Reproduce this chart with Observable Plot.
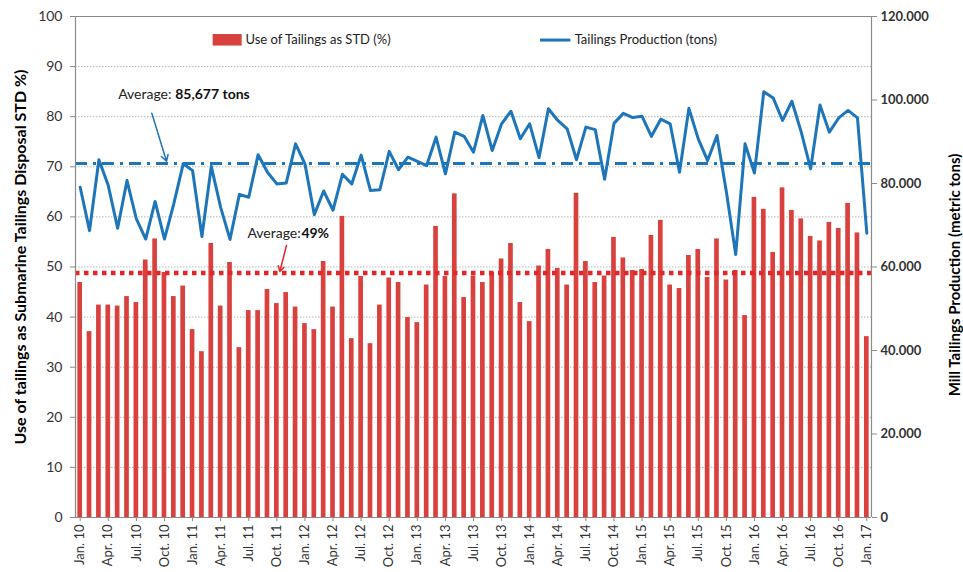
<!DOCTYPE html>
<html><head><meta charset="utf-8">
<script src="https://cdn.jsdelivr.net/npm/d3@7"></script>
<script src="https://cdn.jsdelivr.net/npm/@observablehq/plot@0.6"></script>
<style>
html,body{margin:0;padding:0;background:#fff;}
#chart{width:963px;height:572px;overflow:hidden;}
</style></head><body><div id="chart"></div>
<script>
// Use of tailings as STD (%), monthly Jan 2010 .. Jan 2017
const stdPct = [46.9,37.1,42.4,42.4,42.2,44.1,42.9,51.4,55.6,48.9,44.1,46.2,
  37.5,33.1,54.7,42.2,50.9,33.9,41.3,41.3,45.5,42.7,44.9,42.0,
  38.7,37.5,51.1,42.0,60.1,35.7,48.1,34.7,42.4,47.8,46.9,39.9,
  38.9,46.4,58.1,48.1,64.6,43.9,48.2,46.9,48.9,51.6,54.7,42.9,
  39.1,50.2,53.5,49.7,46.4,64.7,51.1,46.9,48.2,55.9,51.8,49.3,
  49.5,56.3,59.3,46.4,45.7,52.3,53.5,47.9,55.6,47.4,49.3,40.3,
  63.9,61.5,52.9,65.8,61.3,59.6,56.1,55.2,58.9,57.7,62.7,56.8,
  36.1];
// Tailings production (thousand tons)
const tonsK = [79.1,68.7,85.7,79.5,69.3,80.7,71.5,66.7,75.7,66.7,75.2,84.7,
  83.1,67.3,84.1,74.3,66.6,77.4,76.7,86.9,82.7,79.9,80.1,89.5,
  84.7,72.5,78.2,73.6,82.2,79.9,86.8,78.3,78.5,87.7,83.3,86.3,
  85.3,84.3,91.1,82.3,92.3,91.3,87.5,96.3,87.9,94.3,97.3,90.7,
  94.3,86.2,97.9,95.1,93.1,85.7,93.5,92.9,81.0,94.4,96.8,95.8,
  96.1,91.3,95.4,94.3,82.7,98.0,90.7,85.5,91.5,78.0,63.0,89.5,
  82.5,102.0,100.5,95.1,99.7,92.3,83.5,98.8,92.3,95.7,97.5,95.7,
  68.1];
const tickLabels = ["Jan. 10","Apr. 10","Jul. 10","Oct. 10","Jan. 11","Apr. 11","Jul. 11","Oct. 11",
  "Jan. 12","Apr. 12","Jul. 12","Oct. 12","Jan. 13","Apr. 13","Jul. 13","Oct. 13",
  "Jan. 14","Apr. 14","Jul. 14","Oct. 14","Jan. 15","Apr. 15","Jul. 15","Oct. 15",
  "Jan. 16","Apr. 16","Jul. 16","Oct. 16","Jan. 17"];
const pctTicks = [0,10,20,30,40,50,60,70,80,90,100];
const tonsTicks = [0,20000,40000,60000,80000,100000,120000];
const avgStdDrawn = 48.8;
const avgTonsDrawnK = 84.8;
const seriesNames = ["Use of Tailings as STD (%)", "Tailings Production (tons)"];
const leftTitle = "Use of tailings as Submarine Tailings Disposal STD %)";
const rightTitle = "Mill Tailings Production (metric tons)";
const avgTonsLabel = ["Average:", "85,677 tons"];
const avgStdLabel = ["Average:", "49%"];

const RED = "#d9413f", BLUE = "#1f75b9";
const tonsMax = 120000;
const toY = k => k * 1000 / tonsMax * 100;
const data = stdPct.map((v, i) => ({i, std: v, tons: tonsK[i]}));
const fmt = d3.formatLocale({thousands: ".", grouping: [3], decimal: ",", currency: ["", ""]}).format(",");
const tickIdx = tickLabels.map((_, k) => k * 3);

const chart = Plot.plot({
  width: 963, height: 572,
  marginLeft: 75, marginRight: 92, marginTop: 16, marginBottom: 55,
  x: {type: "linear", domain: [-0.5, 84.5]},
  y: {domain: [0, 100]},
  style: {fontFamily: "Lato, 'Open Sans', sans-serif", background: "#fff", color: "#333"},
  marks: [
    Plot.ruleY(pctTicks.filter(v => v > 0 && v < 100), {stroke: "#b5b5b5", strokeWidth: 1, strokeDasharray: "1.5,1.5"}),
    Plot.rectY(data, {x1: d => d.i - 0.25, x2: d => d.i + 0.25, y: "std", fill: RED}),
    Plot.line(data, {x: "i", y: d => toY(d.tons), stroke: BLUE, strokeWidth: 3}),
    Plot.ruleY([avgStdDrawn], {stroke: "#e4262b", strokeWidth: 4.5, strokeDasharray: "4.5,4.5"}),
    Plot.ruleY([toY(avgTonsDrawnK)], {stroke: BLUE, strokeWidth: 3, strokeDasharray: "12,6,3,6"}),
    Plot.ruleY([100], {stroke: "#8a8a8a", strokeWidth: 1.2}),
    Plot.ruleY([0], {stroke: "#8a8a8a", strokeWidth: 1.2}),
    Plot.ruleX([-0.5, 84.5], {stroke: "#8a8a8a", strokeWidth: 1.2}),
    Plot.axisY({ticks: pctTicks, tickSize: 5, tickPadding: 8, fontSize: 14, label: null}),
    Plot.axisY({anchor: "right", ticks: tonsTicks.map(t => t / tonsMax * 100),
      tickFormat: v => fmt(Math.round(v * tonsMax / 100)), tickSize: 5, tickPadding: 4,
      fontSize: 13, fontWeight: "bold", label: null}),
    Plot.axisX({ticks: tickIdx, tickFormat: d => tickLabels[Math.round(d / 3)], tickRotate: -90,
      tickSize: 4, tickPadding: 3, fontSize: 13, label: null}),
    // legend
    Plot.rect([0], {x1: 14.2, x2: 17.3, y1: 94.1, y2: 96.4, fill: RED}),
    Plot.text([seriesNames[0]], {x: 17.65, y: 95.3, textAnchor: "start", fontSize: 13, fill: "#222"}),
    Plot.ruleY([95.3], {x1: 49.15, x2: 52.4, stroke: BLUE, strokeWidth: 3}),
    Plot.text([seriesNames[1]], {x: 52.8, y: 95.3, textAnchor: "start", fontSize: 13, fill: "#222"}),
    // annotations
    Plot.text([avgTonsLabel[0]], {x: 9.75, y: 84.4, textAnchor: "end", fontSize: 14, fill: "#222"}),
    Plot.text([avgTonsLabel[1]], {x: 10.15, y: 84.4, textAnchor: "start", fontSize: 14, fontWeight: "bold", fill: "#111"}),
    Plot.arrow([0], {x1: 7.65, y1: 80.7, x2: 9.22, y2: 71.1, stroke: BLUE, strokeWidth: 1.5, headLength: 7, bend: 0}),
    Plot.text([avgStdLabel[0]], {x: 23.55, y: 56.6, textAnchor: "end", fontSize: 14, fill: "#222"}),
    Plot.text([avgStdLabel[1]], {x: 23.62, y: 56.6, textAnchor: "start", fontSize: 14, fontWeight: "bold", fill: "#111"}),
    Plot.arrow([0], {x1: 22.03, y1: 54.3, x2: 21.32, y2: 49.1, stroke: "#e4262b", strokeWidth: 1.5, headLength: 6, bend: 0}),
    // axis titles
    Plot.text([leftTitle], {frameAnchor: "left", textAnchor: "middle", rotate: -90, dx: -55, dy: -10, fontSize: 16, fontWeight: "bold", fill: "#000"}),
    Plot.text([rightTitle], {frameAnchor: "right", textAnchor: "middle", rotate: -90, dx: 84, dy: 8, fontSize: 15, fontWeight: "bold", fill: "#000"})
  ]
});
document.getElementById("chart").appendChild(chart);
d3.select(chart).selectAll("g[aria-label='y-axis tick'], g[aria-label='x-axis tick']").attr("stroke", "#8a8a8a");
</script></body></html>
